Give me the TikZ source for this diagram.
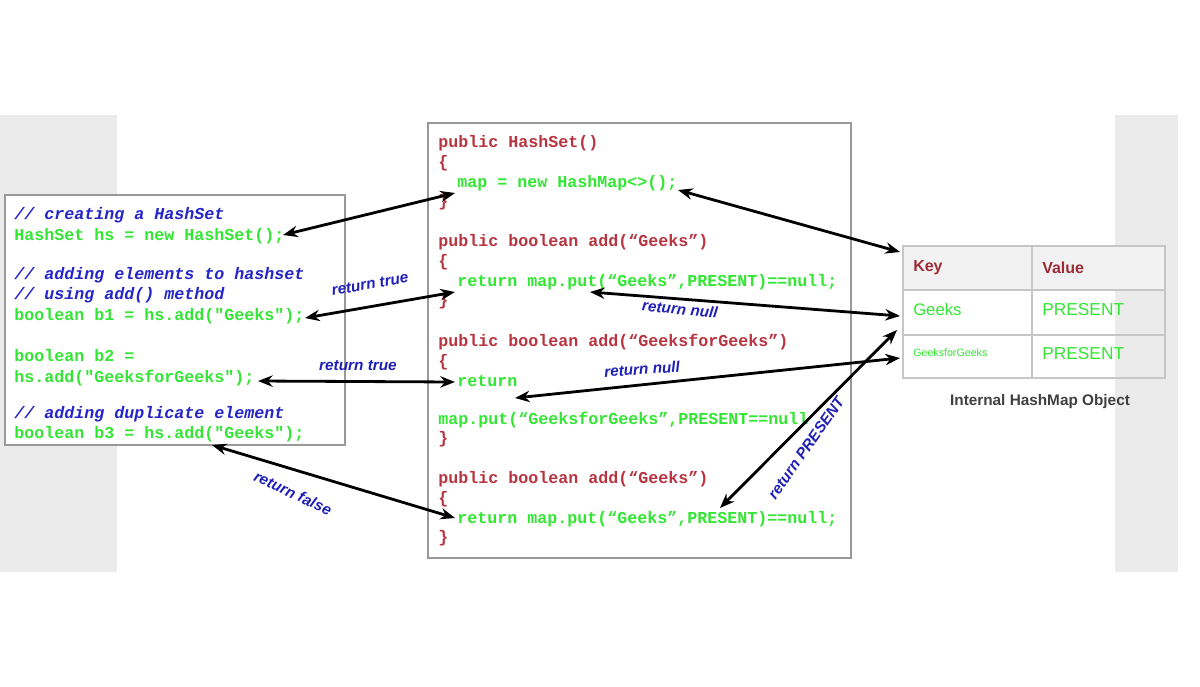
\documentclass[tikz,border=0pt]{standalone}
\usepackage{fontspec}
\setmainfont{Liberation Sans}
\setmonofont{Liberation Mono}
\usetikzlibrary{arrows.meta}
\definecolor{cblue}{HTML}{2525C8}
\definecolor{cgreen}{HTML}{33E633}
\definecolor{cred}{HTML}{B83440}
\definecolor{lblue}{HTML}{2020B8}
\definecolor{bandgray}{HTML}{EBEBEB}
\tikzset{
 code/.style={anchor=west,inner sep=0pt,font=\ttfamily\bfseries\fontsize{12.5}{12}\selectfont},
 cmt/.style={code,text=cblue,font=\ttfamily\bfseries\itshape\fontsize{12.5}{12}\selectfont},
 gr/.style={code,text=cgreen},
 rd/.style={code,text=cred},
 lab/.style={inner sep=0pt,text=lblue,font=\bfseries\itshape\fontsize{11.5}{12}\selectfont},
 arr/.style={{Stealth[length=11pt,width=8.5pt]}-{Stealth[length=11pt,width=8.5pt]},line width=2.1pt,black},
 box/.style={draw=gray!80,line width=1pt},
 cell/.style={draw=gray!45,line width=0.8pt},
 tt/.style={anchor=west,inner sep=0pt,font=\bfseries\fontsize{12}{12}\selectfont},
}
\begin{document}
\begin{tikzpicture}[x=0.75pt,y=-0.75pt]
\useasboundingbox (0,0) rectangle (1200,686);
\fill[white] (0,0) rectangle (1200,686);
\fill[bandgray] (0,115) rectangle (117,572);
\fill[bandgray] (1115,115) rectangle (1178,572);
% left box
\draw[box,fill=white] (5,195) rectangle (345,445);
\node[cmt] (l1) at (14,215) {// creating a HashSet};
\node[gr] (l2) at (14,236) {HashSet hs = new HashSet();};
\node[cmt] (l3) at (14,275) {// adding elements to hashset};
\node[cmt] (l4) at (14,295) {// using add() method};
\node[gr] (l5) at (14,316) {boolean b1 = hs.add("Geeks");};
\node[gr] (l6) at (14,356) {boolean b2 =};
\node[gr] (l7) at (14,378) {hs.add("GeeksforGeeks");};
\node[cmt] (l8) at (14,414) {// adding duplicate element};
\node[gr] (l9) at (14,434) {boolean b3 = hs.add("Geeks");};
% middle box
\draw[box,fill=white] (428,123) rectangle (851,558);
\node[rd] (m1) at (438,143) {public HashSet()};
\node[rd] (m2) at (438,163) {\{};
\node[gr] (m3) at (457,183) {map = new HashMap<>();};
\node[rd] (m4) at (438,202) {\}};
\node[rd] (m5) at (438,242) {public boolean add(“Geeks”)};
\node[rd] (m6) at (438,262) {\{};
\node[gr] (m7) at (457,282) {return map.put(“Geeks”,PRESENT)==null;};
\node[rd] (m8) at (438,301) {\}};
\node[rd] (m9) at (438,342) {public boolean add(“GeeksforGeeks”)};
\node[rd] (m10) at (438,362) {\{};
\node[gr] (m11) at (457,381) {return};
\node[gr] (m12) at (438,420) {map.put(“GeeksforGeeks”,PRESENT==null};
\node[rd] (m13) at (438,439) {\}};
\node[rd] (m14) at (438,479) {public boolean add(“Geeks”)};
\node[rd] (m15) at (438,499) {\{};
\node[gr] (m16) at (457,519) {return map.put(“Geeks”,PRESENT)==null;};
\node[rd] (m17) at (438,538) {\}};
% table
\fill[gray!10] (903,246) rectangle (1165,290);
\draw[cell] (903,246) rectangle (1165,378);
\draw[cell] (903,290) -- (1165,290) (903,335) -- (1165,335) (1032,246) -- (1032,378);
\node[tt,text=cred!85!black] (k) at (913,268) {Key};
\node[tt,text=cred!85!black] (v) at (1042,268) {Value};
\node[tt,text=cgreen,font=\fontsize{12.5}{12}\selectfont] (g1) at (913,310) {Geeks};
\node[tt,text=cgreen,font=\fontsize{13}{12}\selectfont] (p1) at (1042,310) {PRESENT};
\node[tt,text=cgreen,font=\fontsize{8}{8}\selectfont] (g2) at (913,353) {GeeksforGeeks};
\node[tt,text=cgreen,font=\fontsize{13}{12}\selectfont] (p2) at (1042,354) {PRESENT};
\node[inner sep=0pt,text=black!75,font=\bfseries\fontsize{11.5}{12}\selectfont] (cap) at (1040,402) {Internal HashMap Object};
% connector end points
\coordinate (a1) at (283,235); \coordinate (b1) at (455,193);
\coordinate (a2) at (305,318); \coordinate (b2) at (455,292);
\coordinate (a3) at (258,381); \coordinate (b3) at (455,382);
\coordinate (a4) at (212,445); \coordinate (b4) at (455,518);
\coordinate (c1) at (678,190); \coordinate (t1) at (900,252);
\coordinate (c2) at (590,292); \coordinate (t2) at (900,316);
\coordinate (c3) at (515,398); \coordinate (t3) at (900,358);
\coordinate (c4) at (720,508); \coordinate (t4) at (897,330);
\draw[arr] (a1) -- (b1);
\draw[arr] (a2) -- (b2);
\draw[arr] (a3) -- (b3);
\draw[arr] (a4) -- (b4);
\draw[arr] (c1) -- (t1);
\draw[arr] (c2) -- (t2);
\draw[arr] (c3) -- (t3);
\draw[arr] (c4) -- (t4);
% labels
\node[lab,rotate=10] (r1) at (370,284) {return true};
\node[lab] (r2) at (358,366) {return true};
\node[lab,rotate=-25] (r3) at (293,493) {return false};
\node[lab,rotate=-6] (r4) at (680,309) {return null};
\node[lab,rotate=4] (r5) at (642,369) {return null};
\node[lab,rotate=55] (r6) at (806,448) {return PRESENT};
\end{tikzpicture}
\end{document}
